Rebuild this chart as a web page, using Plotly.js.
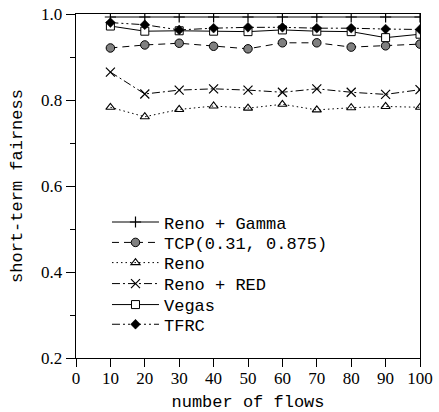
<!DOCTYPE html>
<html>
<head>
<meta charset="utf-8">
<script src="https://cdn.plot.ly/plotly-3.0.1.min.js"></script>
<style>html,body{margin:0;padding:0;background:#fff;}#chart{width:439px;height:412px;}</style>
</head>
<body>
<div id="chart"></div>
<script>
const flows = [10, 20, 30, 40, 50, 60, 70, 80, 90, 100];
const renoGamma = [0.993, 0.993, 0.993, 0.993, 0.993, 0.993, 0.993, 0.993, 0.993, 0.993];
const tcp = [0.921, 0.928, 0.932, 0.925, 0.919, 0.933, 0.933, 0.923, 0.926, 0.930];
const reno = [0.783, 0.761, 0.778, 0.786, 0.781, 0.790, 0.777, 0.782, 0.785, 0.783];
const renoRed = [0.865, 0.814, 0.823, 0.826, 0.823, 0.818, 0.826, 0.818, 0.813, 0.824];
const vegas = [0.972, 0.960, 0.961, 0.960, 0.959, 0.963, 0.960, 0.959, 0.945, 0.953];
const tfrc = [0.980, 0.975, 0.963, 0.967, 0.969, 0.969, 0.967, 0.967, 0.965, 0.964];
const names = ["Reno + Gamma", "TCP(0.31, 0.875)", "Reno", "Reno + RED", "Vegas", "TFRC"];

const mono = "'Liberation Mono', 'Courier New', monospace";
const serif = "'Liberation Serif', 'Times New Roman', serif";

const traces = [
  {x: flows, y: renoGamma, name: names[0], mode: "lines+markers", legend: "legend",
   line: {color: "black", width: 1, dash: "solid"},
   marker: {symbol: "cross-thin-open", size: 8, color: "black", line: {color: "black", width: 1.2}}},
  {x: flows, y: tcp, name: names[1], mode: "lines+markers", legend: "legend2",
   line: {color: "black", width: 1, dash: "7px,5px"},
   marker: {symbol: "circle", size: 8.5, color: "#808080", line: {color: "black", width: 1}}},
  {x: flows, y: reno, name: names[2], mode: "lines+markers", legend: "legend3",
   line: {color: "black", width: 1, dash: "1.5px,3px"},
   marker: {symbol: "triangle-up-open", size: 8, color: "black", line: {color: "black", width: 1.1}}},
  {x: flows, y: renoRed, name: names[3], mode: "lines+markers", legend: "legend4",
   line: {color: "black", width: 1, dash: "8px,3px,2px,3px"},
   marker: {symbol: "x-thin-open", size: 9, color: "black", line: {color: "black", width: 1.2}}},
  {x: flows, y: vegas, name: names[4], mode: "lines+markers", legend: "legend5",
   line: {color: "black", width: 1, dash: "solid"},
   marker: {symbol: "square", size: 8, color: "white", line: {color: "black", width: 1}}},
  {x: flows, y: tfrc, name: names[5], mode: "lines+markers", legend: "legend6",
   line: {color: "black", width: 1, dash: "8px,3px,2px,3px,2px,3px"},
   marker: {symbol: "diamond", size: 7.5, color: "black", line: {color: "black", width: 0.5}}}
];

function leg(yc) {
  return {x: 0.0901, y: yc, xanchor: "left", yanchor: "middle",
          bgcolor: "rgba(0,0,0,0)", borderwidth: 0,
          font: {family: mono, size: 17, color: "black"},
          itemwidth: 47};
}
const legendY = [0.394, 0.3347, 0.276, 0.215, 0.154, 0.0968];

const layout = {
  width: 439, height: 412,
  margin: {l: 76, r: 19, t: 14, b: 54, pad: 0},
  paper_bgcolor: "white", plot_bgcolor: "white",
  showlegend: true,
  legend: leg(legendY[0]), legend2: leg(legendY[1]), legend3: leg(legendY[2]),
  legend4: leg(legendY[3]), legend5: leg(legendY[4]), legend6: leg(legendY[5]),
  xaxis: {range: [0, 100], dtick: 10, tick0: 0, showgrid: false, zeroline: false,
          showline: true, linecolor: "black", linewidth: 1.3, mirror: true,
          ticks: "outside", ticklen: 8, tickcolor: "black", tickwidth: 1,
          ticklabelstandoff: -4,
          tickfont: {family: serif, size: 17, color: "black"},
          title: {text: "number of flows", font: {family: mono, size: 17, color: "black"}, standoff: 16}},
  yaxis: {range: [0.2, 1.0], dtick: 0.2, tick0: 0.2, tickformat: ".1f", showgrid: false, zeroline: false,
          showline: true, linecolor: "black", linewidth: 1.3, mirror: true,
          ticks: "outside", ticklen: 9, tickcolor: "black", tickwidth: 1,
          minor: {dtick: 0.1, ticks: "outside", ticklen: 5, tickcolor: "black", tickwidth: 1, showgrid: false},
          tickfont: {family: serif, size: 17, color: "black"},
          title: {text: "short-term fairness", font: {family: mono, size: 17, color: "black"}, standoff: 14}}
};

Plotly.newPlot("chart", traces, layout, {displayModeBar: false, staticPlot: true});
</script>
</body>
</html>
